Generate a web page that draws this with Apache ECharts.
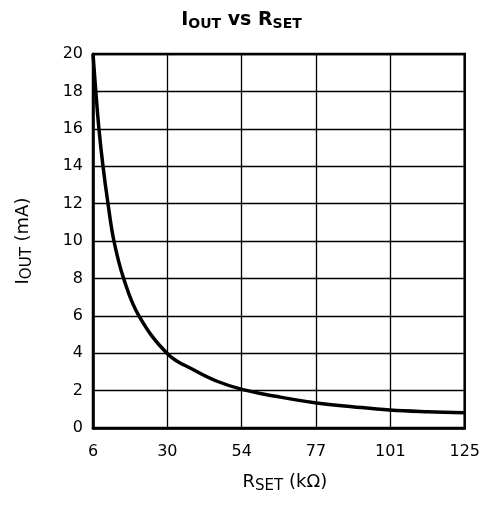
<!DOCTYPE html>
<html>
<head>
<meta charset="utf-8">
<script src="https://cdn.jsdelivr.net/npm/echarts@6/dist/echarts.min.js"></script>
<style>html,body{margin:0;padding:0;background:#fff}#c{width:483px;height:511px}</style>
</head>
<body>
<div id="c"></div>
<script>
var rSet = [6, 6.9, 7.9, 9.2, 10.8, 12.7, 15.8, 20.7, 30, 38.3, 45.7, 54, 65, 77, 89, 101, 113, 125];
var iOut = [20, 18, 16, 14, 12, 10, 8, 6, 3.95, 3.1, 2.5, 2.05, 1.68, 1.35, 1.14, 0.96, 0.87, 0.82];
var xTicks = [6, 30, 54, 77, 101, 125];
var yTicks = [0, 2, 4, 6, 8, 10, 12, 14, 16, 18, 20];

var F = '"DejaVu Sans", sans-serif';
var chart = echarts.init(document.getElementById('c'));
var pts = rSet.map(function (r, i) { return [r, iOut[i]]; });
chart.setOption({
  animation: false,
  title: {
    text: '{m|I}{s|OUT}{m| vs R}{s|SET}',
    left: 'center',
    top: 4,
    textStyle: {
      rich: {
        m: { fontFamily: F, fontWeight: 'bold', fontSize: 19, color: '#000' },
        s: { fontFamily: F, fontWeight: 'bold', fontSize: 14, color: '#000', padding: [8, 0, 0, 0] }
      }
    }
  },
  grid: { left: 93, right: 14, top: 54, bottom: 83, show: true, borderColor: '#000', borderWidth: 2.5 },
  xAxis: {
    type: 'value',
    min: 6, max: 125, interval: 23.8,
    axisLine: { show: true, lineStyle: { color: '#000', width: 2.5 } },
    axisTick: { show: false },
    splitLine: { show: true, lineStyle: { color: '#000', width: 1.3 } },
    axisLabel: {
      margin: 16, fontFamily: F, fontSize: 16, color: '#000',
      formatter: function (v) {
        var best = xTicks[0];
        xTicks.forEach(function (t) { if (Math.abs(t - v) < Math.abs(best - v)) best = t; });
        return String(best);
      }
    },
    name: '{m|R}{s|SET}{m| (kΩ)}',
    nameLocation: 'middle',
    nameGap: 43,
    nameTextStyle: {
      padding: [0, 0, 0, 12],
      rich: {
        m: { fontFamily: F, fontSize: 18, color: '#000' },
        s: { fontFamily: F, fontSize: 15, color: '#000', padding: [8, 0, 0, 0] }
      }
    }
  },
  yAxis: {
    type: 'value',
    min: yTicks[0], max: yTicks[yTicks.length - 1], interval: 2,
    axisLine: { show: true, lineStyle: { color: '#000', width: 2.5 } },
    axisTick: { show: false },
    splitLine: { show: true, lineStyle: { color: '#000', width: 1.3 } },
    axisLabel: { margin: 10, fontFamily: F, fontSize: 16, color: '#000' },
    name: '{m|I}{s|OUT}{m| (mA)}',
    nameLocation: 'middle',
    nameGap: 58,
    nameRotate: 90,
    nameTextStyle: {
      rich: {
        m: { fontFamily: F, fontSize: 18, color: '#000' },
        s: { fontFamily: F, fontSize: 15, color: '#000', padding: [8, 0, 0, 0] }
      }
    }
  },
  series: [{
    type: 'line',
    data: pts,
    smooth: 0.4,
    symbol: 'none',
    lineStyle: { color: '#000', width: 3.5 }
  }]
});
</script>
</body>
</html>
